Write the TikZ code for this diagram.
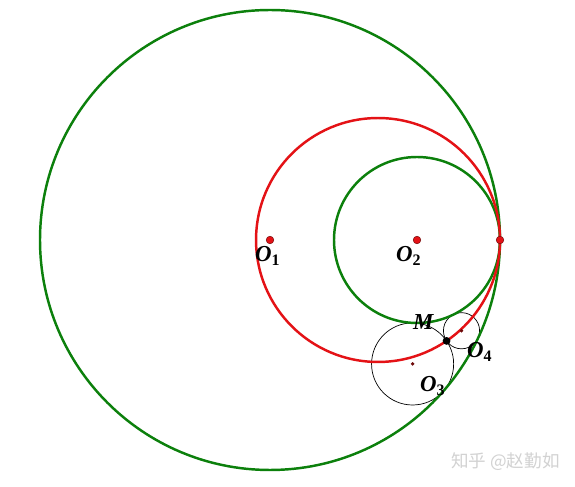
\documentclass[tikz,border=0pt]{standalone}
\usepackage{fontspec}
\setmainfont{Liberation Serif}
\newfontfamily\cjk{Noto Sans CJK SC}
\definecolor{geo}{RGB}{12,128,12}
\definecolor{geored}{RGB}{228,18,22}
\definecolor{dotedge}{RGB}{110,10,10}
\begin{document}
\begin{tikzpicture}[x=0.03cm,y=-0.03cm,
  greencirc/.style={draw=geo, line width=2.1pt},
  redcirc/.style={draw=geored, line width=2.1pt},
  thincirc/.style={draw=black, line width=0.6pt},
  bigdot/.style={fill=geored, draw=dotedge, line width=0.4pt},
  tinydot/.style={fill=dotedge},
  lab/.style={font=\fontsize{19.5}{22}\selectfont\bfseries\itshape, inner sep=0pt, anchor=base west},
  wmark/.style={font=\cjk\fontsize{15}{17}\selectfont, text=gray!35, inner sep=0pt, anchor=west}]
\useasboundingbox (0,0) rectangle (575,487);
\fill[white] (0,0) rectangle (575,487);
\coordinate (O1) at (270,240);
\coordinate (O2) at (417,240);
\coordinate (R) at (378.02,240);
\coordinate (T) at (500,240);
\coordinate (O3) at (412.61,363.96);
\coordinate (O4) at (461.51,330.74);
\coordinate (M) at (446.56,340.9);
% thin circles
\draw[thincirc] (O3) circle[radius=41.04];
\draw[thincirc] (O4) circle[radius=18.08];
% main circles
\draw[greencirc] (O1) circle[radius=230];
\draw[greencirc] (O2) circle[radius=83];
\draw[redcirc] (R) circle[radius=121.98];
% points
\fill[tinydot] (O3) circle[radius=1.9];
\fill[tinydot] (O4) circle[radius=1.9];
\filldraw[bigdot] (O1) circle[radius=3.8];
\filldraw[bigdot] (O2) circle[radius=3.8];
\filldraw[bigdot] (T) circle[radius=3.8];
\fill[black] (M) circle[radius=3.9];
% labels
\node[lab] (l1) at (255,262) {O\textsubscript{\upshape 1}};
\node[lab] (l2) at (396,262) {O\textsubscript{\upshape 2}};
\node[lab] (lM) at (413,330) {M};
\node[lab] (l4) at (467,358) {O\textsubscript{\upshape 4}};
\node[lab] (l3) at (420,392) {O\textsubscript{\upshape 3}};
\node[wmark] (wm) at (451,462) {知乎 @赵勤如};
\end{tikzpicture}
\end{document}
